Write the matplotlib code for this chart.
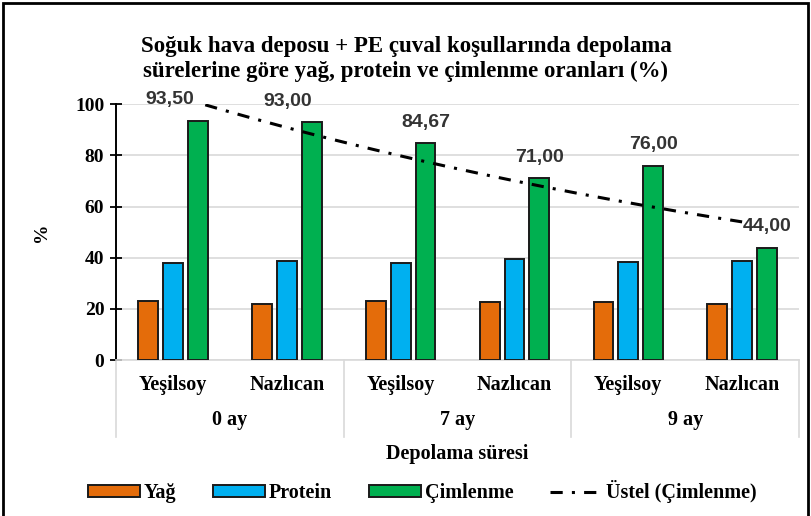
import numpy as np
import matplotlib
matplotlib.use("Agg")
import matplotlib.pyplot as plt
from matplotlib.patches import Rectangle
from matplotlib.lines import Line2D
import matplotlib.transforms as mtransforms

# data
varieties = ['Yeşilsoy', 'Nazlıcan', 'Yeşilsoy', 'Nazlıcan', 'Yeşilsoy', 'Nazlıcan']
periods = ['0 ay', '7 ay', '9 ay']
yag = [23.2, 21.9, 23.2, 22.6, 22.6, 21.9]
protein = [37.9, 38.7, 37.9, 39.4, 38.3, 38.6]
cimlenme = [93.50, 93.00, 84.67, 71.00, 76.00, 44.00]

c_yag = '#E46C0A'
c_pro = '#00B0F0'
c_cim = '#00B050'
grid_c = '#D9D9D9'

plt.rcParams['font.family'] = 'Liberation Serif'
plt.rcParams['font.weight'] = 'bold'

fig = plt.figure(figsize=(8.12, 5.16), dpi=100)
ax = fig.add_axes([0.143, 0.302, 0.841, 0.496])

x = np.arange(1, len(varieties) + 1)
w = 0.175
step = 0.218
b1 = ax.bar(x - step, yag, w, color=c_yag, edgecolor='#1a1a1a', lw=1.4, label='Yağ', zorder=3)
b2 = ax.bar(x, protein, w, color=c_pro, edgecolor='#1a1a1a', lw=1.4, label='Protein', zorder=3)
b3 = ax.bar(x + step, cimlenme, w, color=c_cim, edgecolor='#1a1a1a', lw=1.4, label='Çimlenme', zorder=3)

# exponential trendline (Excel style: fit on log values)
b, ln_a = np.polyfit(x, np.log(cimlenme), 1)
xs = np.linspace(1, 6, 200)
tl, = ax.plot(xs, np.exp(ln_a + b * xs), color='black', lw=2.2, dashes=(4, 3, 1, 3),
              label='Üstel (Çimlenme)', zorder=4)

# data labels on the green bars (first two moved left in the original)
lab_dx = [-28, -24, 0, 0, 0, 0]
for i, v in enumerate(cimlenme):
    ax.annotate(f'{v:.2f}'.replace('.', ','), (x[i] + step, v),
                xytext=(lab_dx[i], 21), textcoords='offset pixels',
                ha='center', va='center', fontsize=14, fontweight='bold',
                family='Liberation Sans', color='#333333', zorder=5)

ax.set_xlim(0.5, 6.5)
ax.set_ylim(0, 100)
ax.set_yticks(range(0, 101, 20))
ax.tick_params(axis='y', labelsize=14, direction='inout', length=9, width=1.3, pad=4)
ax.yaxis.grid(True, color=grid_c, lw=1.2, zorder=0)
ax.set_axisbelow(True)
ax.set_xticks([])
for s in ['top', 'right']:
    ax.spines[s].set_visible(False)
ax.spines['left'].set_linewidth(1.4)
ax.spines['bottom'].set_color(grid_c)
ax.spines['bottom'].set_linewidth(1.2)
ax.set_ylabel('%', fontsize=14, fontweight='bold', labelpad=18)

# multi-level category axis
trans = mtransforms.blended_transform_factory(ax.transData, ax.transAxes)
for i, name in enumerate(varieties):
    ax.text(x[i], -0.098, name, transform=trans, ha='center', va='center', fontsize=14.5)
for j, p in enumerate(periods):
    ax.text(2 * j + 1.5, -0.234, p, transform=trans, ha='center', va='center', fontsize=14.5)
for sep in [0.5, 2.5, 4.5, 6.5]:
    ax.add_line(Line2D([sep, sep], [0, -0.30], transform=trans, color=grid_c, lw=1.2,
                       clip_on=False))
ax.text(3.5, -0.365, 'Depolama süresi', transform=trans, ha='center', va='center', fontsize=14.5)

fig.text(0.5, 0.885, 'Soğuk hava deposu + PE çuval koşullarında depolama\n'
         'sürelerine göre yağ, protein ve çimlenme oranları (%)',
         ha='center', va='center', fontsize=16.5, fontweight='bold', linespacing=1.25)

fig.legend(handles=[b1, b2, b3, tl], loc='center', bbox_to_anchor=(0.52, 0.047), ncol=4,
           frameon=False, fontsize=14.5, handlelength=2.6, handleheight=0.55,
           columnspacing=1.8, handletextpad=0.2)

fig.patches.append(Rectangle((0.004, -0.02), 0.991, 1.014, transform=fig.transFigure,
                             fill=False, lw=2, edgecolor='black'))

fig.savefig('out.png', dpi=100)
